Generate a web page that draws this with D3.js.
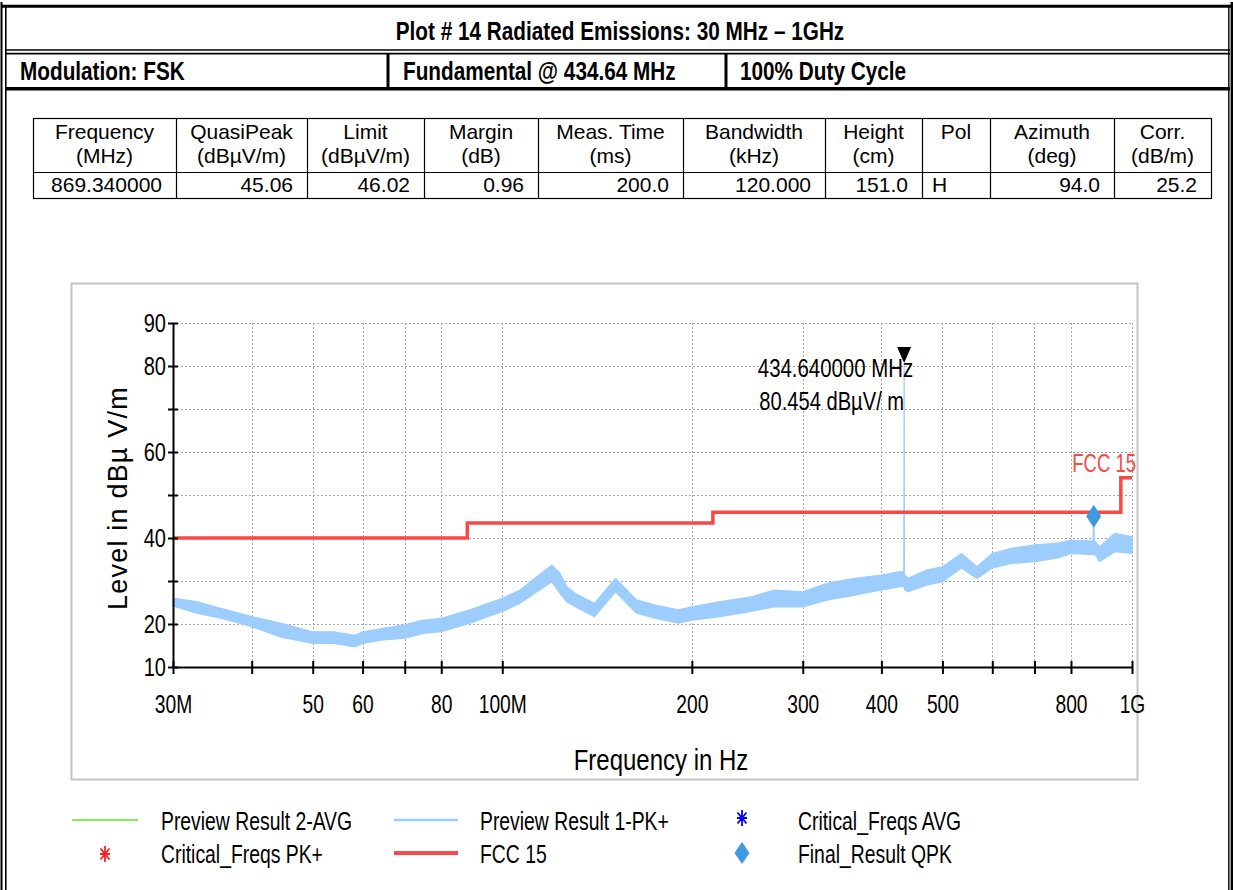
<!DOCTYPE html>
<html><head><meta charset="utf-8">
<script src="https://cdn.jsdelivr.net/npm/d3@7/dist/d3.min.js"></script>
<style>html,body{margin:0;padding:0;background:#fff;overflow:hidden}svg{display:block}</style>
</head><body>
<svg id="chart" width="1233" height="890"></svg>
<script>
// ================= DATA =================
const titleText = "Plot # 14 Radiated Emissions: 30 MHz \u2013 1GHz";
const infoCells = ["Modulation: FSK", "Fundamental @ 434.64 MHz", "100% Duty Cycle"];

const tableHead1 = ["Frequency", "QuasiPeak", "Limit", "Margin", "Meas. Time", "Bandwidth", "Height", "Pol", "Azimuth", "Corr."];
const tableHead2 = ["(MHz)", "(dB\u00b5V/m)", "(dB\u00b5V/m)", "(dB)", "(ms)", "(kHz)", "(cm)", "", "(deg)", "(dB/m)"];
const tableRow   = ["869.340000", "45.06", "46.02", "0.96", "200.0", "120.000", "151.0", "H", "94.0", "25.2"];

// Preview Result 1-PK+ : upper / lower envelope of the noisy trace (MHz, dBuV/m)
const traceFreqMHz = [30, 32.7, 35.6, 40, 44.4, 50, 53.9, 58.4, 60, 64.7, 70, 74.9, 80, 88.9, 100, 106.7, 113.5, 119.9, 123.5, 126.5,
  130.6, 140.1, 151.3, 163.4, 175.2, 190.5, 200, 222, 248.6, 270, 300, 329, 362.7, 400, 429, 434.2, 434.64, 435.1, 441, 473,
  500, 536, 567, 600, 643.6, 700, 761, 800, 867, 869.34, 871.5, 875, 888, 939, 1000];
const traceHigh = [26.0, 25.2, 23.7, 21.7, 20.2, 18.2, 18.2, 17.4, 18.2, 19.0, 19.8, 20.9, 21.3, 23.3, 26.0, 27.9, 31.0, 33.7, 31.8, 28.7,
  27.1, 24.8, 30.6, 25.6, 24.4, 23.3, 24.0, 25.2, 26.3, 27.9, 27.5, 29.5, 30.6, 31.4, 32.2, 32.2, 80.45, 31.5, 30.6, 32.6,
  33.3, 36.4, 33.3, 36.4, 37.6, 38.4, 38.8, 39.5, 39.3, 44.5, 39.2, 39.1, 38.0, 41.1, 40.3];
const traceLow = [24.2, 22.5, 21.4, 19.4, 17.0, 15.5, 15.5, 14.7, 15.5, 16.3, 16.7, 17.8, 18.2, 20.2, 22.9, 24.8, 27.5, 29.8, 27.1, 25.2,
  24.0, 21.7, 27.5, 22.5, 21.3, 20.2, 20.9, 21.7, 22.9, 24.0, 24.0, 25.6, 26.7, 27.9, 28.7, 28.7, 30.0, 28.0, 27.5, 29.1,
  29.8, 33.0, 30.6, 33.0, 34.1, 34.5, 35.3, 36.4, 36.1, 36.5, 36.0, 36.0, 34.5, 36.8, 36.4];

// FCC 15 limit (step after)
const limitFreqMHz = [30, 88, 216, 960, 1000];
const limitLevel   = [40, 43.5, 46, 54, 54];

// Marker and final result
const markerFreqMHz = 434.64;
const markerLevel = 80.454;
const markerLabels = ["434.640000 MHz", "80.454 dB\u00b5V/ m"];
const qpFreqMHz = [869.34];
const qpLevel = [45.06];

// Axes
const xTickValues = [30, 40, 50, 60, 70, 80, 100, 200, 300, 400, 500, 600, 700, 800, 1000];
const xTickLabels = ["30M", "", "50", "60", "", "80", "100M", "200", "300", "400", "500", "", "", "800", "1G"];
const yTickValues = [10, 20, 30, 40, 50, 60, 70, 80, 90];
const yTickLabels = ["10", "20", "", "40", "", "60", "", "80", "90"];
const xTitle = "Frequency in Hz";
const yTitle = "Level in dB\u00b5 V/m";
const limitName = "FCC 15";

const legendLabels = ["Preview Result 2-AVG", "Preview Result 1-PK+", "Critical_Freqs AVG",
                      "Critical_Freqs PK+", "FCC 15", "Final_Result QPK"];

// ================= DRAWING =================
const FONT = "'Liberation Sans', Arial, sans-serif";
const svg = d3.select("#chart");

function txt(parent, x, y, s, o = {}) {
  const t = parent.append("text")
    .attr("transform", `translate(${x},${y}) scale(${o.sx ?? 1},1)`)
    .attr("font-family", FONT)
    .attr("font-size", o.size || 20)
    .attr("font-weight", o.weight || "normal")
    .attr("text-anchor", o.anchor || "start")
    .attr("fill", o.fill || "#000")
    .text(s);
  if (o.ls) t.attr("letter-spacing", o.ls);
  return t;
}
function hline(x1, x2, yy, w, c = "#000") {
  svg.append("line").attr("x1", x1).attr("x2", x2).attr("y1", yy).attr("y2", yy).attr("stroke", c).attr("stroke-width", w);
}
function vline(xx, y1, y2, w, c = "#000") {
  svg.append("line").attr("x1", xx).attr("x2", xx).attr("y1", y1).attr("y2", y2).attr("stroke", c).attr("stroke-width", w);
}

// ---- outer frame ----
vline(1.5, 2, 890, 2);
vline(5.8, 6, 890, 1.6);
vline(1228.8, 6, 890, 1.4);
vline(1231.8, 2, 890, 2.4);
hline(1, 1233, 6.3, 3);
hline(5, 1230, 50, 1.6);
hline(5, 1230, 53.6, 1.6);
hline(5, 1230, 88.8, 3.4);
vline(388, 54, 88, 3);
vline(726, 54, 88, 3);

txt(svg, 620, 40, titleText, {size: 25, weight: "bold", sx: 0.83, anchor: "middle"});
txt(svg, 20, 80, infoCells[0], {size: 25, weight: "bold", sx: 0.83});
txt(svg, 403, 80, infoCells[1], {size: 25, weight: "bold", sx: 0.83});
txt(svg, 740, 80, infoCells[2], {size: 25, weight: "bold", sx: 0.83});

// ---- table ----
const colX = [33, 176, 307, 424, 538, 683, 825, 922, 990, 1114, 1211];
const tT = 118, tM = 172.5, tB = 198;
svg.append("rect").attr("x", colX[0] + 0.5).attr("y", tT + 0.5).attr("width", colX[10] - colX[0]).attr("height", tB - tT)
  .attr("fill", "none").attr("stroke", "#000").attr("stroke-width", 1.2);
hline(colX[0], colX[10], tM, 1.2);
colX.slice(1, 10).forEach(cx => vline(cx + 0.5, tT, tB, 1.2));
const tg = svg.append("g");
tableHead1.forEach((h, i) => {
  const cx = (colX[i] + colX[i + 1]) / 2;
  txt(tg, cx, 139, h, {size: 21, anchor: "middle"});
  if (tableHead2[i]) txt(tg, cx, 163, tableHead2[i], {size: 21, anchor: "middle"});
  if (tableRow[i] === "H") txt(tg, colX[i] + 10, 192, tableRow[i], {size: 21});
  else txt(tg, colX[i + 1] - 14, 192, tableRow[i], {size: 21, anchor: "end"});
});

// ---- chart frame ----
svg.append("rect").attr("x", 71.5).attr("y", 283.5).attr("width", 1066).attr("height", 496)
  .attr("fill", "none").attr("stroke", "#c4c4c4").attr("stroke-width", 2);

const x = d3.scaleLog().domain([30, 1000]).range([173, 1132]);
const y = d3.scaleLinear().domain([10, 90]).range([667, 323]);
const g = svg.append("g");

// grid
g.append("g").selectAll("line").data(yTickValues.filter(v => v > 10)).join("line")
  .attr("x1", x(30)).attr("x2", x(1000)).attr("y1", d => y(d) + 0.5).attr("y2", d => y(d) + 0.5)
  .attr("stroke", "#a6a6a6").attr("stroke-width", 1).attr("stroke-dasharray", "2,2");
g.append("g").selectAll("line").data(xTickValues.filter(v => v > 30)).join("line")
  .attr("x1", d => Math.round(x(d)) + 0.5).attr("x2", d => Math.round(x(d)) + 0.5).attr("y1", y(90)).attr("y2", y(10))
  .attr("stroke", "#a6a6a6").attr("stroke-width", 1).attr("stroke-dasharray", "2,2");

// trace
const traceData = traceFreqMHz.map((f, i) => ({f, hi: traceHigh[i], lo: traceLow[i]}));
g.append("path").datum(traceData)
  .attr("d", d3.area().x(d => x(d.f)).y0(d => y(d.lo)).y1(d => y(d.hi)))
  .attr("fill", "#9dcdfc").attr("stroke", "#9dcdfc").attr("stroke-width", 1.2).attr("stroke-linejoin", "round");

// limit
const limitData = limitFreqMHz.map((f, i) => ({f, v: limitLevel[i]}));
g.append("path").datum(limitData)
  .attr("d", d3.line().curve(d3.curveStepAfter).x(d => x(d.f)).y(d => y(d.v)))
  .attr("fill", "none").attr("stroke", "#f84848").attr("stroke-width", 3.5);
txt(g, 1136, 472, limitName, {size: 25, sx: 0.74, anchor: "end", fill: "#f84848"});

// axes
const xLab = new Map(xTickValues.map((v, i) => [v, xTickLabels[i]]));
const yLab = new Map(yTickValues.map((v, i) => [v, yTickLabels[i]]));
const gx = g.append("g").attr("transform", `translate(0,${y(10)})`)
  .call(d3.axisBottom(x).tickValues(xTickValues).tickFormat(d => xLab.get(d)).tickSizeOuter(0));
gx.select(".domain").attr("stroke", "#000").attr("stroke-width", 2);
gx.selectAll(".tick line").attr("y1", -6).attr("y2", 7).attr("stroke", "#000").attr("stroke-width", 2);
gx.selectAll(".tick text").attr("y", null).attr("dy", null)
  .attr("transform", "translate(0,46) scale(0.74,1)")
  .attr("font-size", 26).attr("font-family", FONT).attr("fill", "#000");

const gy = g.append("g").attr("transform", `translate(${x(30)},0)`)
  .call(d3.axisLeft(y).tickValues(yTickValues).tickFormat(d => yLab.get(d)).tickSizeOuter(0));
gy.select(".domain").attr("stroke", "#000").attr("stroke-width", 2);
gy.selectAll(".tick line").attr("x1", -5).attr("x2", 5).attr("stroke", "#000").attr("stroke-width", 2);
gy.selectAll(".tick text").attr("x", null)
  .attr("transform", "translate(-7,0) scale(0.77,1)")
  .attr("font-size", 26).attr("font-family", FONT).attr("fill", "#000");

// axis titles
txt(g, 661, 770, xTitle, {size: 30, sx: 0.8, anchor: "middle"});
g.append("text").attr("transform", "translate(127,498) rotate(-90)")
  .attr("font-family", FONT).attr("font-size", 27).attr("letter-spacing", 1.2)
  .attr("text-anchor", "middle").text(yTitle);

// marker
const mx = x(markerFreqMHz), my = y(markerLevel);
g.append("path").attr("d", `M${mx - 7},${my - 17}L${mx + 7},${my - 17}L${mx},${my - 1}Z`).attr("fill", "#000");
txt(g, mx + 9, 377, markerLabels[0], {size: 25.5, sx: 0.8, anchor: "end"});
txt(g, mx, 410, markerLabels[1], {size: 25.5, sx: 0.79, anchor: "end"});

// final result diamonds
function diamond(cx, cy, w, h) { return `M${cx},${cy - h / 2}L${cx + w / 2},${cy}L${cx},${cy + h / 2}L${cx - w / 2},${cy}Z`; }
g.selectAll(".qp").data(qpFreqMHz.map((f, i) => ({f, v: qpLevel[i]}))).join("path")
  .attr("d", d => diamond(x(d.f), y(d.v), 15, 23)).attr("fill", "#3e9ae0");

// ---- legend ----
function star(cx, cy, c) {
  const p = `M${cx},${cy - 8}L${cx},${cy + 8}M${cx - 5},${cy}L${cx + 5},${cy}M${cx - 4.5},${cy - 5.5}L${cx + 4.5},${cy + 5.5}M${cx - 4.5},${cy + 5.5}L${cx + 4.5},${cy - 5.5}`;
  svg.append("path").attr("d", p).attr("stroke", c).attr("stroke-width", 1.8).attr("fill", "none");
}
const lg = svg.append("g");
const r1 = 820, r2 = 853;
hline(72, 138, r1, 2, "#88ee55");
hline(394, 458, r1, 2.5, "#99ccff");
star(742, r1 - 2, "#0000ff");
star(105, r2 + 1, "#ff2020");
hline(394, 458, r2, 4, "#f84848");
lg.append("path").attr("d", diamond(742, r2, 15, 22)).attr("fill", "#3e9ae0");
const legPos = [[161, r1], [480, r1], [798, r1], [161, r2], [480, r2], [798, r2]];
legendLabels.forEach((s, i) => txt(lg, legPos[i][0], legPos[i][1] + 10, s, {size: 26, sx: 0.745}));
</script>
</body></html>
